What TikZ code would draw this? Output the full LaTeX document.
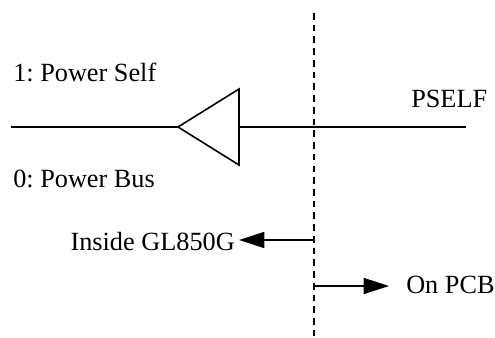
\documentclass[tikz,border=0pt]{standalone}
\usepackage{fontspec}
\setmainfont{Liberation Serif}
\usetikzlibrary{arrows.meta}
\tikzset{wire/.style={draw=black,line width=1.2pt},lab/.style={font=\fontsize{19.7}{22}\selectfont\frenchspacing,inner sep=0,anchor=base west,text=black},tip/.style={-{Triangle[length=19pt,width=12pt]}}}
\begin{document}
\begin{tikzpicture}[x=0.75pt,y=-0.75pt]
\path[use as bounding box] (0,0) rectangle (495,338);
\coordinate (top) at (314,13);
\coordinate (bot) at (314,338);
\coordinate (L) at (11,127);
\coordinate (R) at (466,127);
\coordinate (a) at (178,127);
\coordinate (b) at (239,89);
\coordinate (c) at (239,165);
\coordinate (m1) at (314,240);
\coordinate (m2) at (314,286);
\coordinate (e1) at (239,240);
\coordinate (e2) at (389,286);
\draw[wire,dash pattern=on 5pt off 3.8pt] (top) -- (bot);
\draw[wire] (L) -- (a);
\draw[wire,line join=miter] (a) -- (b) -- (c) -- cycle;
\draw[wire] (239,127) -- (R);
\draw[wire,tip] (m1) -- (e1);
\draw[wire,tip] (m2) -- (e2);
\node[lab] (n1) at (13,82) {1: Power Self};
\node[lab] (n2) at (13,188) {0: Power Bus};
\node[lab] (n3) at (411,108) {PSELF};
\node[lab,anchor=base east] (n4) at (235,250) {Inside GL850G};
\node[lab] (n5) at (406,293) {On PCB};
\end{tikzpicture}
\end{document}
